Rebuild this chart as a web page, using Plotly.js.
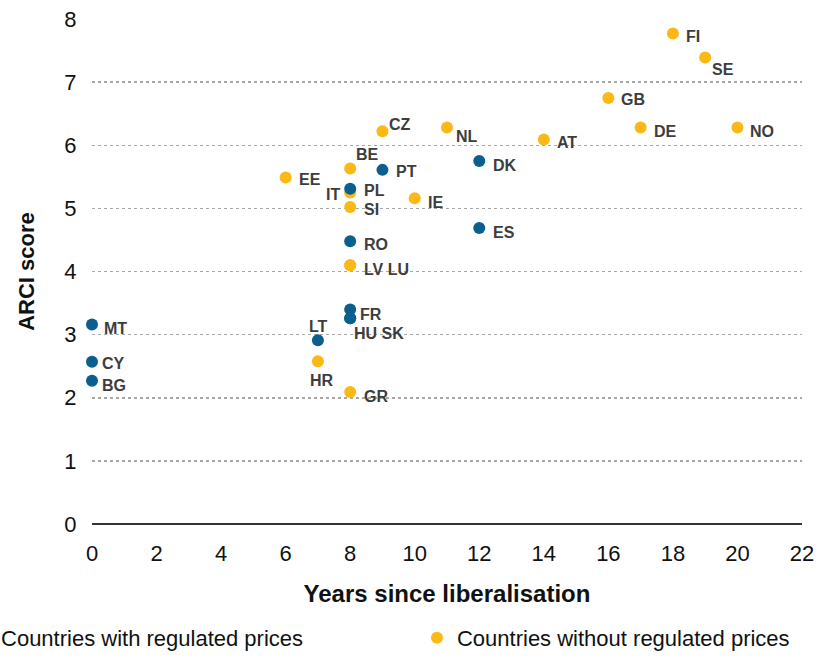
<!DOCTYPE html>
<html>
<head>
<meta charset="utf-8">
<script src="https://cdn.plot.ly/plotly-3.0.1.min.js"></script>
<style>html,body{margin:0;padding:0;background:#fff;}#chart{width:820px;height:658px;}</style>
</head>
<body>
<div id="chart"></div>
<script>
// Countries with regulated prices
var regCountries = ["DK", "PT", "PL", "ES", "RO", "FR", "HU", "SK", "LT", "MT", "CY", "BG"];
var regYears     = [12, 9, 8, 12, 8, 8, 8, 8, 7, 0, 0, 0];
var regScores    = [5.75, 5.61, 5.31, 4.69, 4.48, 3.40, 3.26, 3.26, 2.91, 3.16, 2.57, 2.27];
var regLabels    = ["DK", "PT", "PL", "ES", "RO", "FR", "HU SK", "", "LT", "MT", "CY", "BG"];

// Countries without regulated prices
var unregCountries = ["FI", "SE", "GB", "DE", "NO", "AT", "NL", "CZ", "BE", "EE", "IT", "SI", "IE", "LV", "LU", "HR", "GR"];
var unregYears     = [18, 19, 16, 17, 20, 14, 11, 9, 8, 6, 8, 8, 10, 8, 8, 7, 8];
var unregScores    = [7.77, 7.39, 6.75, 6.28, 6.28, 6.09, 6.28, 6.22, 5.63, 5.49, 5.25, 5.02, 5.16, 4.10, 4.10, 2.58, 2.09];
var unregLabels    = ["FI", "SE", "GB", "DE", "NO", "AT", "NL", "CZ", "BE", "EE", "IT", "SI", "IE", "LV LU", "", "HR", "GR"];

var xTicks = [0, 2, 4, 6, 8, 10, 12, 14, 16, 18, 20, 22];
var yTicks = [0, 1, 2, 3, 4, 5, 6, 7, 8];

// label placement (screen px: dx from point centre, dy downward, anchor)
var labelPlacement = {
  "FI": [11, 3, "left"], "SE": [5, 12, "left"], "GB": [11, 2, "left"], "DE": [11, 4, "left"],
  "NO": [11, 4, "left"], "AT": [11, 3, "left"], "NL": [7, 9, "left"], "CZ": [5, -7, "left"],
  "BE": [4, -14, "left"], "EE": [11, 2, "left"], "IT": [-8, 2, "right"], "PL": [12, 2, "left"],
  "SI": [12, 2, "left"], "IE": [11, 4, "left"], "PT": [12, 2, "left"], "DK": [12, 4, "left"],
  "ES": [12, 5, "left"], "RO": [12, 3, "left"], "LV LU": [12, 4, "left"], "FR": [8, 5, "left"],
  "HU SK": [2, 15, "left"], "LT": [1, -14, "center"], "HR": [4, 19, "center"], "GR": [12, 4, "left"],
  "MT": [10, 4, "left"], "CY": [8, 2, "left"], "BG": [8, 5, "left"]
};

var BLUE = "#0a5f8e", YELLOW = "#fcb814";
var FONT = "Liberation Sans, Arial, sans-serif";

var traces = [
  {
    type: "scatter", mode: "markers", name: "Countries without regulated prices",
    x: unregYears, y: unregScores, text: unregCountries, legend: "legend2",
    marker: {color: YELLOW, size: 12}, cliponaxis: false, hoverinfo: "text+x+y"
  },
  {
    type: "scatter", mode: "markers", name: "Countries with regulated prices",
    x: regYears, y: regScores, text: regCountries, legend: "legend",
    marker: {color: BLUE, size: 12}, cliponaxis: false, hoverinfo: "text+x+y"
  }
];

var annotations = [];
function addLabels(xs, ys, labels) {
  for (var i = 0; i < labels.length; i++) {
    if (!labels[i]) continue;
    var p = labelPlacement[labels[i]] || [10, 0, "left"];
    annotations.push({
      x: xs[i], y: ys[i], xref: "x", yref: "y", text: labels[i], showarrow: false,
      xanchor: p[2], yanchor: "middle", xshift: p[0], yshift: -p[1],
      font: {family: FONT, size: 16, color: "#3d3d3d", weight: "bold"}
    });
  }
}
addLabels(unregYears, unregScores, unregLabels);
addLabels(regYears, regScores, regLabels);

var legendCommon = {
  orientation: "h", xanchor: "left", y: -0.2257, yanchor: "middle",
  font: {family: FONT, size: 22, color: "#111111"},
  bgcolor: "rgba(0,0,0,0)", borderwidth: 0
};

var layout = {
  width: 820, height: 658,
  margin: {l: 92, r: 18, t: 19, b: 134, autoexpand: false},
  paper_bgcolor: "#ffffff", plot_bgcolor: "#ffffff",
  font: {family: FONT, color: "#111111"},
  showlegend: true,
  legend: Object.assign({}, legendCommon, {x: -0.1845}),
  legend2: Object.assign({}, legendCommon, {x: 0.4577}),
  xaxis: {
    range: [0, 22], tickvals: xTicks, ticktext: xTicks.map(String),
    showgrid: false, zeroline: false, showline: false,
    ticks: "outside", ticklen: 10, tickcolor: "rgba(0,0,0,0)",
    tickfont: {size: 22, color: "#111111"},
    title: {text: "Years since liberalisation", standoff: 19,
            font: {size: 24, color: "#111111", weight: "bold"}},
    automargin: false, fixedrange: true
  },
  yaxis: {
    range: [0, 8], tickvals: yTicks, ticktext: yTicks.map(String),
    showgrid: true, gridcolor: "#a8a8a8", griddash: "dot", gridwidth: 1.5,
    zeroline: true, zerolinecolor: "#333333", zerolinewidth: 2, showline: false,
    ticks: "outside", ticklen: 10, tickcolor: "rgba(0,0,0,0)",
    tickfont: {size: 22, color: "#111111"},
    title: {text: "ARCI score", standoff: 23,
            font: {size: 22, color: "#111111", weight: "bold"}},
    automargin: false, fixedrange: true
  },
  annotations: annotations
};

Plotly.newPlot("chart", traces, layout, {displayModeBar: false, staticPlot: true});
</script>
</body>
</html>
